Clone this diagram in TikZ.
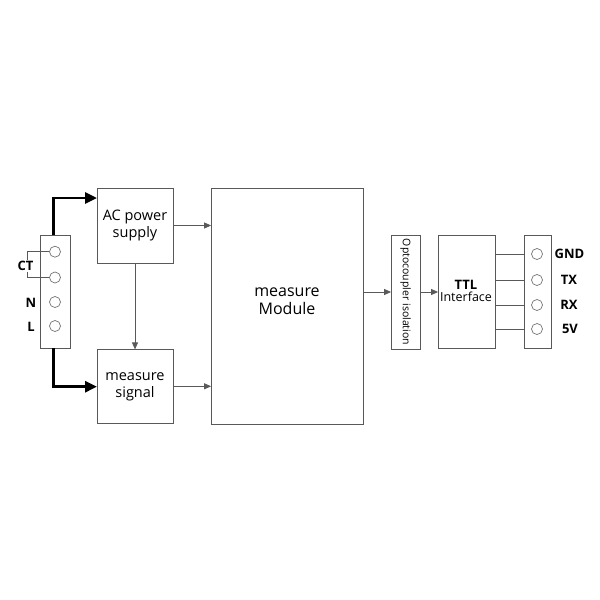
\documentclass[tikz,border=0pt]{standalone}
\usepackage{fontspec}
\setmainfont{Open Sans}
\usetikzlibrary{arrows.meta}
\tikzset{
  blk/.style={draw=black!65, line width=0.8pt, align=center, inner sep=0pt},
  pin/.style={circle, draw=black!55, line width=0.7pt, minimum size=11pt, inner sep=0pt},
  wire/.style={draw=black!65, line width=0.8pt},
  sig/.style={wire, -{Triangle[length=7pt,width=6pt]}, shorten >=-0.5pt},
  pwr/.style={line width=2.8pt, -{Triangle[length=12pt,width=11pt]}},
  lbl/.style={font=\bfseries\fontsize{13}{15}\selectfont, inner sep=1pt}
}

\begin{document}
\begin{tikzpicture}[x=1pt,y=-1pt]
\useasboundingbox (0,0) rectangle (600,600);
% mains terminal block
\node[blk, minimum width=30pt, minimum height=113pt] (tl) at (55,291.5) {};
\node[pin] (p1) at (55,251.7) {};
\node[pin] (p2) at (55,277.5) {};
\node[pin] (p3) at (55,302) {};
\node[pin] (p4) at (55,326) {};
\draw[wire] (p1.west) -- ++(-22,0) |- (p2.west);
\node[lbl, fill=white] (ct) at (25.5,266) {CT};
\node[lbl] (n) at (31,303) {N};
\node[lbl] (l) at (31,327) {L};
% blocks
\node[blk, minimum width=76pt, minimum height=75pt, font=\fontsize{14.5}{17}\selectfont] (ac) at (135,225.5) {AC power\\supply};
\node[blk, minimum width=76pt, minimum height=74pt, font=\fontsize{14.5}{17}\selectfont] (sg) at (135,386.3) {measure\\signal};
\node[blk, minimum width=152pt, minimum height=236pt] (mod) at (287,306) {};
\node[font=\fontsize{16}{17.5}\selectfont, align=center] (modtxt) at (287,301) {measure\\Module};
\node[blk, minimum width=29pt, minimum height=114pt] (opto) at (405.5,292) {};
\node[rotate=-90, font=\fontsize{10.5}{12}\selectfont] (optotxt) at (opto) {Optocoupler isolation};
\node[blk, minimum width=57pt, minimum height=113pt] (ttl) at (466.5,291.5) {};
\node[align=center, inner sep=0pt] (ttltxt) at (466,290.5) {{\bfseries\fontsize{13}{15}\selectfont TTL}\\[0pt]{\fontsize{12.5}{14}\selectfont Interface}};
% uart terminal block
\node[blk, minimum width=27pt, minimum height=113pt] (tr) at (537.5,291.5) {};
\node[pin] (q1) at (537,254) {};
\node[pin] (q2) at (537,280) {};
\node[pin] (q3) at (537,305) {};
\node[pin] (q4) at (537,329) {};
\node[lbl, anchor=west] (gnd) at (553.5,254) {GND};
\node[lbl] (tx) at (569,280) {TX};
\node[lbl] (rx) at (569,305) {RX};
\node[lbl] (v5) at (570,329) {5V};
\foreach \q in {q1,q2,q3,q4} {
  \draw[wire] (ttl.east |- \q) -- (tr.west |- \q);
}
% connections
\coordinate (acin) at (97,198);
\coordinate (sgin) at (97,386.7);
\draw[pwr] ([xshift=-1.5pt]tl.north) |- (acin);
\draw[pwr] ([xshift=-1.5pt]tl.south) |- (sgin);
\draw[sig] (ac.south) -- (sg.north);
\draw[sig] (ac.east) -- (ac.east -| mod.west);
\draw[sig] (sg.east) -- (sg.east -| mod.west);
\draw[sig] (mod.east |- opto) -- (opto.west);
\draw[sig] (opto.east) -- (opto.east -| ttl.west);
\end{tikzpicture}
\end{document}
